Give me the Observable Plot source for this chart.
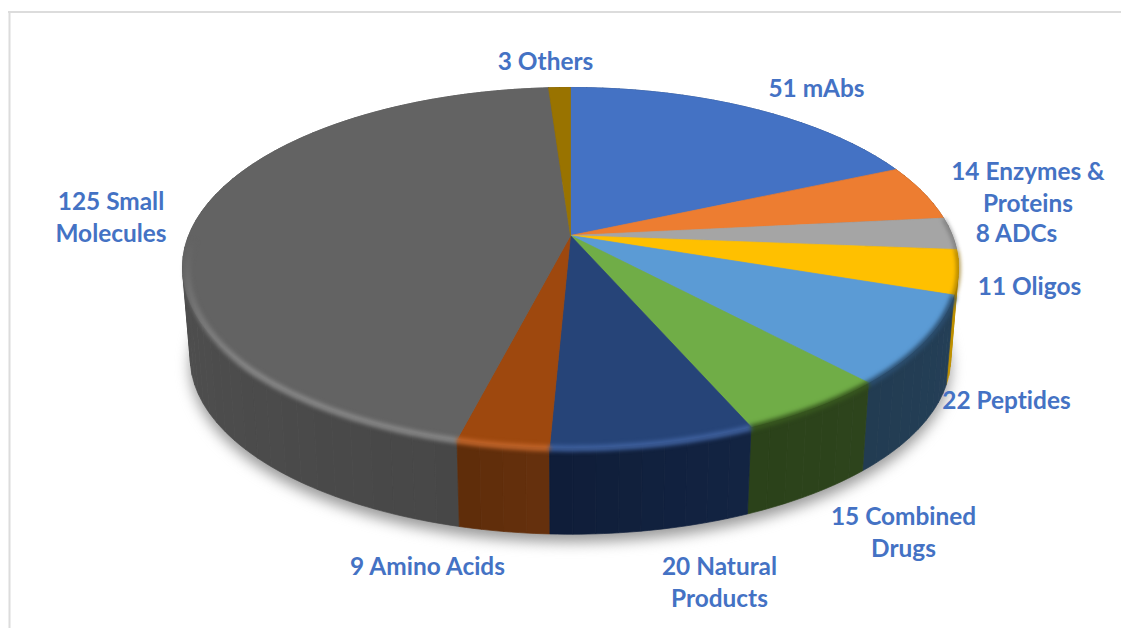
<!DOCTYPE html>
<html>
<head>
<meta charset="utf-8">
<script src="https://cdn.jsdelivr.net/npm/d3@7"></script>
<script src="https://cdn.jsdelivr.net/npm/@observablehq/plot@0.6"></script>
<style>
html,body{margin:0;padding:0;background:#fff;overflow:hidden}
svg{display:block}
svg text{font-variant-ligatures:none}
</style>
</head>
<body>
<div id="chart"></div>
<script>
const categories = ["mAbs","Enzymes & Proteins","ADCs","Oligos","Peptides","Combined Drugs","Natural Products","Amino Acids","Small Molecules","Others"];
const counts = [51,14,8,11,22,15,20,9,125,3];
const labels = ["51 mAbs","14 Enzymes &\nProteins","8 ADCs","11 Oligos","22 Peptides","15 Combined\nDrugs","20 Natural\nProducts","9 Amino Acids","125 Small\nMolecules","3 Others"];
const topColors = ["#4472c4","#ed7d31","#a5a5a5","#ffc000","#5b9bd5","#70ad47","#264478","#9e480e","#636363","#997300"];
const sideFrom = ["#2a4679","#93501f","#666666","#bf9000","#243f57","#2d441c","#132443","#66310d","#474747","#5e4700"];
const sideTo   = ["#2a4679","#93501f","#666666","#bf9000","#223c52","#2b421a","#0f1d38","#5e2c09","#5b5b5b","#5e4700"];
const rimColors = [null,null,"#5c5c5c","#8a6800","#2c4f70","#38581f","#3f619f","#c2652a","#888888",null];
const rimWidths = [0,0,2,3,6,6,6,6,6,0];

const labelX = [816,1027.5,1016,1029,1006,903,719,427,110.5,545];
const labelY = [86,185,231,284,398,530,580,564,215,59];

// pie geometry (perspective-projected disc)
const cx = 570, cy = 235, A = 381.8, B = 174.3, k = 0.1776, depth = 91, sb = 0.98;
const rad = d => d * Math.PI / 180;
const proj = (deg, r = 1, dy = 0, s = 1) => {
  const t = rad(deg), w = 1 + k * r * Math.cos(t);
  return {x: cx + s * r * A * Math.sin(t) / w, y: cy + dy - s * r * B * Math.cos(t) / w};
};
const total = d3.sum(counts);
const cum = d3.cumsum(counts);
const starts = counts.map((c, i) => (cum[i] - c) / total * 360);
const ends = counts.map((c, i) => cum[i] / total * 360);

const arc = (a, b) => {
  const n = Math.max(1, Math.ceil((b - a) / 1));
  return d3.range(n + 1).map(j => a + (b - a) * j / n);
};

// top faces (closed outlines)
const faces = categories.flatMap((c, i) => [
  {key: c, fill: topColors[i], x: cx, y: cy},
  ...arc(starts[i], ends[i]).map(d => ({key: c, fill: topColors[i], ...proj(d)})),
  {key: c, fill: topColors[i], x: cx, y: cy}
]);

// side bands, painted back to front
const bandStep = 3;
let bands = [];
categories.forEach((c, i) => {
  const n = Math.max(1, Math.ceil((ends[i] - starts[i]) / bandStep));
  const shade = d3.interpolateRgb(sideFrom[i], sideTo[i]);
  d3.range(n).forEach(j => {
    const a = starts[i] + (ends[i] - starts[i]) * j / n;
    const b = starts[i] + (ends[i] - starts[i]) * (j + 1) / n;
    bands.push({i, j, a, b, mid: (a + b) / 2, fill: shade((j + .5) / n)});
  });
});
bands.sort((p, q) => Math.abs(q.mid - 180) - Math.abs(p.mid - 180));
const sides = bands.flatMap((b, idx) => {
  const pts = arc(b.a, b.b);
  const ring = [
    ...pts.map(d => ({key: idx, fill: b.fill, ...proj(d)})),
    ...pts.slice().reverse().map(d => ({key: idx, fill: b.fill, ...proj(d, 1, depth, sb)}))
  ];
  return [...ring, ring[0]];
});

// bevel along the rim
const rimAt = w => categories.flatMap((c, i) => {
  if (!rimColors[i] || rimWidths[i] !== w) return [];
  if (i === 8) {
    const fadeFrom = 228, fadeTo = 268;
    const fade = d3.interpolateRgb(rimColors[i], topColors[i]);
    return d3.range(starts[i], fadeTo, 2).flatMap(a => {
      const p = Math.max(0, (a + 1 - fadeFrom) / (fadeTo - fadeFrom));
      const r = 1 - 0.016 * p;
      return [a, a + 2.2].map(d => ({key: "s" + a, stroke: fade(p), ...proj(d, r, 1 - p)}));
    });
  }
  return arc(starts[i], ends[i]).map(d => ({key: c, stroke: rimColors[i], ...proj(d, 1, 1)}));
});

// drop shadow
const shadow = arc(0, 360).map(d => proj(d, 1, depth + 8, sb));

const labelTable = labels.map((t, i) => ({t, x: labelX[i], y: labelY[i]}));
const fontFamily = "Lato, 'Open Sans', sans-serif";

const poly = data => Plot.line(data, {
  x: "x", y: "y", z: "key", fill: "fill", stroke: "fill", strokeWidth: .7, curve: "linear"
});
const rimMark = w => Plot.line(rimAt(w), {
  x: "x", y: "y", z: "key", stroke: "stroke", strokeWidth: w, curve: "linear", strokeLinecap: "butt"
});

const chart = Plot.plot({
  width: 1121, height: 628,
  margin: 0,
  x: {domain: [0, 1121], range: [0, 1121], axis: null},
  y: {domain: [0, 628], range: [0, 628], axis: null},
  color: {type: "identity"},
  style: {background: "#fff"},
  marks: [
    Plot.ruleY([11.5], {x1: 8, x2: 1121, stroke: "#dcdcdc", strokeWidth: 2}),
    Plot.ruleX([9], {y1: 11, y2: 628, stroke: "#dcdcdc", strokeWidth: 2}),
    Plot.line(shadow, {x: "x", y: "y", fill: "#9a9a9a", stroke: "none", curve: "linear"}),
    poly(sides),
    poly(faces),
    rimMark(6),
    rimMark(3),
    rimMark(2),
    Plot.text(labelTable, {
      x: "x", y: "y", text: "t", lineAnchor: "middle", lineHeight: 1.31,
      fontFamily, fontWeight: 700, fontSize: 24.4, fill: "#4472c4"
    })
  ]
});
document.getElementById("chart").append(chart);
const lineGroups = d3.select(chart).selectAll('g[aria-label="line"]').nodes();
lineGroups[0].style.filter = "blur(7px)";
lineGroups.slice(3).forEach(g => { g.style.filter = "blur(2px)"; });
</script>
</body>
</html>
